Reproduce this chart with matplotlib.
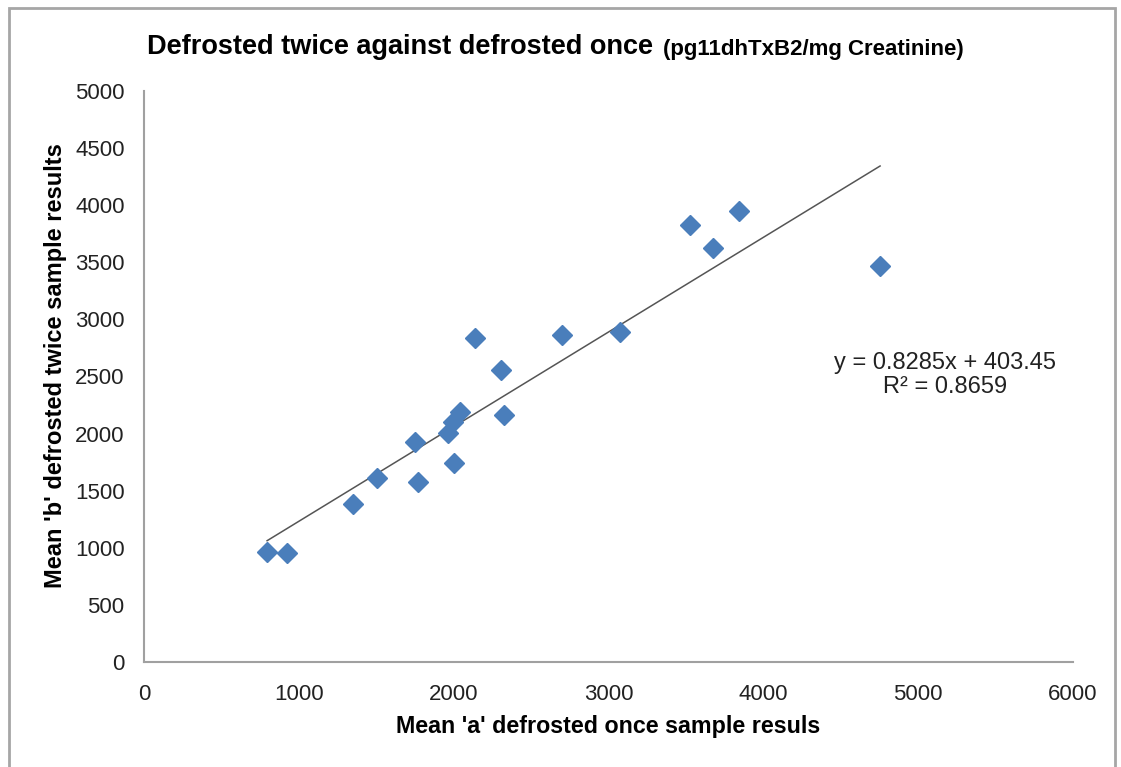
import numpy as np
import matplotlib
matplotlib.use("Agg")
import matplotlib.pyplot as plt
from matplotlib.patches import Rectangle

# values
once_a = [795, 924, 1350, 1505, 1751, 1770, 1964, 1996, 2041, 2003,
          2138, 2306, 2326, 2700, 3075, 3527, 3676, 3844, 4755]
twice_b = [963, 954, 1383, 1611, 1926, 1576, 2006, 2101, 2189, 1743,
           2837, 2557, 2163, 2863, 2889, 3826, 3625, 3949, 3467]

slope = 0.8285
intercept = 403.45
r_squared = 0.8659

x_ticks = [0, 1000, 2000, 3000, 4000, 5000, 6000]
y_ticks = [0, 500, 1000, 1500, 2000, 2500, 3000, 3500, 4000, 4500, 5000]

plt.rcParams['font.family'] = ['Liberation Sans', 'DejaVu Sans']

fig = plt.figure(figsize=(11.21, 7.67), dpi=100)
ax = fig.add_axes([0.1285, 0.1369, 0.8285, 0.7445])

# outer frame like the Excel chart area
fig.patches.append(Rectangle((0.008, -0.05), 0.987, 1.04, transform=fig.transFigure,
                             fill=False, edgecolor="#a6a6a6", linewidth=2))

ax.plot(once_a, twice_b, linestyle="none", marker="D", markersize=10,
        color="#4a7ebb", markeredgecolor="#4a7ebb", zorder=3)

# linear trendline over the data range
xs = np.array([min(once_a), max(once_a)])
ax.plot(xs, slope * xs + intercept, color="#555555", linewidth=1.1, zorder=2)

ax.set_xlim(0, 6000)
ax.set_ylim(0, 5000)
ax.set_xticks(x_ticks)
ax.set_yticks(y_ticks)
ax.tick_params(length=0, labelsize=16, colors="#222222")
ax.tick_params(axis="y", pad=14)
ax.tick_params(axis="x", pad=16)

for s in ["top", "right"]:
    ax.spines[s].set_visible(False)
for s in ["left", "bottom"]:
    ax.spines[s].set_color("#a0a0a0")
    ax.spines[s].set_linewidth(1.5)

# axis titles
fig.text(608 / 1121, 1 - 727 / 767, "Mean 'a' defrosted once sample resuls",
         fontsize=16.75, fontweight="bold", ha="center", va="center")
fig.text(56 / 1121, 1 - 366 / 767, "Mean 'b' defrosted twice sample results",
         fontsize=17, fontweight="bold", ha="center", va="center", rotation=90)

ax.text(5174, 2513, f"y = {slope}x + {intercept}\nR\u00b2 = {r_squared}",
        fontsize=17, ha="center", va="center", linespacing=1.1, color="#222222")

# title in two sizes, second part placed right after the first
t1 = fig.text(0.131, 0.939, "Defrosted twice against defrosted once", fontsize=19.5,
              fontweight="bold", ha="left", va="center")
fig.canvas.draw()
bb = t1.get_window_extent()
fig.text((bb.x1 + 10) / 1121, 0.936, "(pg11dhTxB2/mg Creatinine)", fontsize=16,
         fontweight="bold", ha="left", va="center")

fig.savefig("out.png", dpi=100, facecolor="white")
